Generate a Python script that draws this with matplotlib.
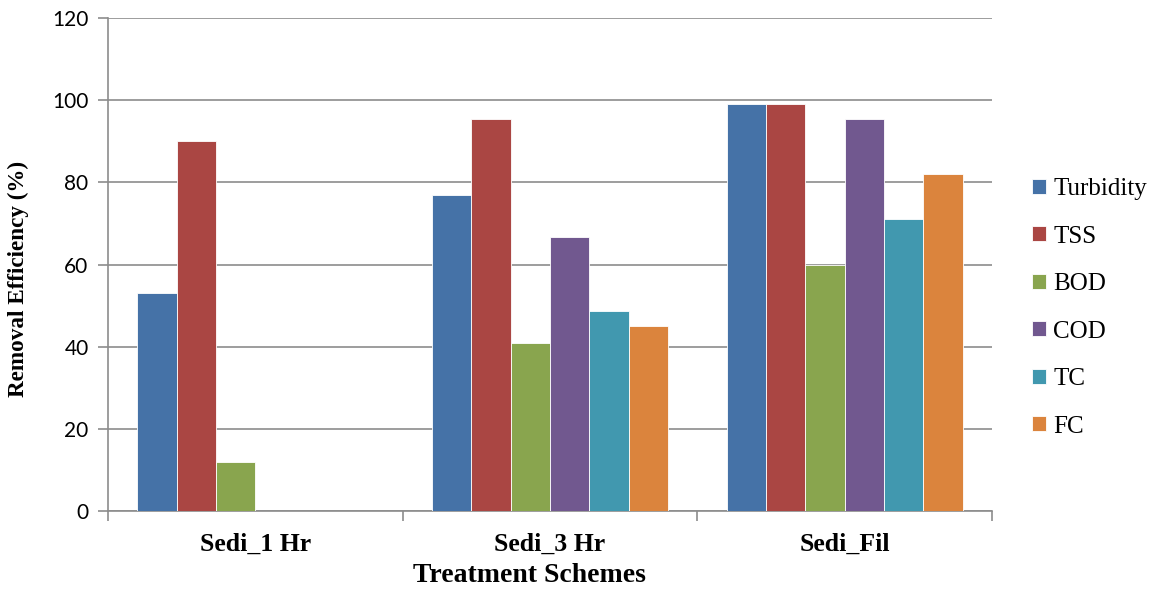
import numpy as np
import matplotlib.pyplot as plt
from matplotlib.ticker import FixedLocator

# データ
schemes = ['Sedi_1 Hr', 'Sedi_3 Hr', 'Sedi_Fil']
params = ['Turbidity', 'TSS', 'BOD', 'COD', 'TC', 'FC']
turbidity = [53.0, 77.0, 99.1]
tss = [90.0, 95.4, 99.1]
bod = [12.0, 40.9, 59.9]
cod = [0, 66.8, 95.4]
tc = [0, 48.7, 71.0]
fc = [0, 45.1, 82.0]
colors = ['#4572A7', '#AA4643', '#89A54E', '#71588F', '#4198AF', '#DB843D']

series = [turbidity, tss, bod, cod, tc, fc]

fig = plt.figure(figsize=(11.59, 5.93), dpi=100)
ax = fig.add_axes([0.0932, 0.1383, 0.7627, 0.8313])

x = np.arange(len(schemes))
width = 0.8 / len(params)

for i, (vals, name) in enumerate(zip(series, params)):
    ax.bar(x - 0.4 + width * (i + 0.5), vals, width=width, color=colors[i],
           label=name, edgecolor='white', linewidth=0.6, zorder=3)

ax.set_xlim(-0.5, 2.5)
ax.set_ylim(0, 120)
ax.set_yticks(range(0, 121, 20))
ax.yaxis.grid(True, color='#8c8c8c', linewidth=1.2, zorder=0)

ax.set_xticks(x)
ax.set_xticklabels(schemes, fontfamily='Liberation Serif', fontweight='bold', fontsize=18.5)
ax.xaxis.set_minor_locator(FixedLocator([-0.5, 0.5, 1.5, 2.5]))
ax.tick_params(axis='x', which='major', length=0, pad=16)
ax.tick_params(axis='x', which='minor', length=7, color='#8c8c8c', width=1.2)
ax.tick_params(axis='y', length=7, color='#8c8c8c', width=1.2, pad=7)
for lab in ax.get_yticklabels():
    lab.set_fontfamily('Lato')
    lab.set_fontsize(15)

for s in ['top', 'right']:
    ax.spines[s].set_visible(False)
for s in ['left', 'bottom']:
    ax.spines[s].set_color('#8c8c8c')
    ax.spines[s].set_linewidth(1.2)

ax.set_xlabel('Treatment Schemes', fontfamily='Liberation Serif', fontweight='bold',
              fontsize=20)
ax.xaxis.set_label_coords(0.477, -0.105)
ax.set_ylabel('Removal Efficiency (%)', fontfamily='Liberation Serif', fontweight='bold',
              fontsize=16.7)
ax.yaxis.set_label_coords(-0.0894, 0.4706)

ax.legend(loc='center left', bbox_to_anchor=(1.02, 0.412), frameon=False,
          prop={'family': 'Liberation Serif', 'size': 18},
          handlelength=0.55, handleheight=0.55, handletextpad=0.3, labelspacing=1.02)

fig.savefig('out.png', dpi=100)
